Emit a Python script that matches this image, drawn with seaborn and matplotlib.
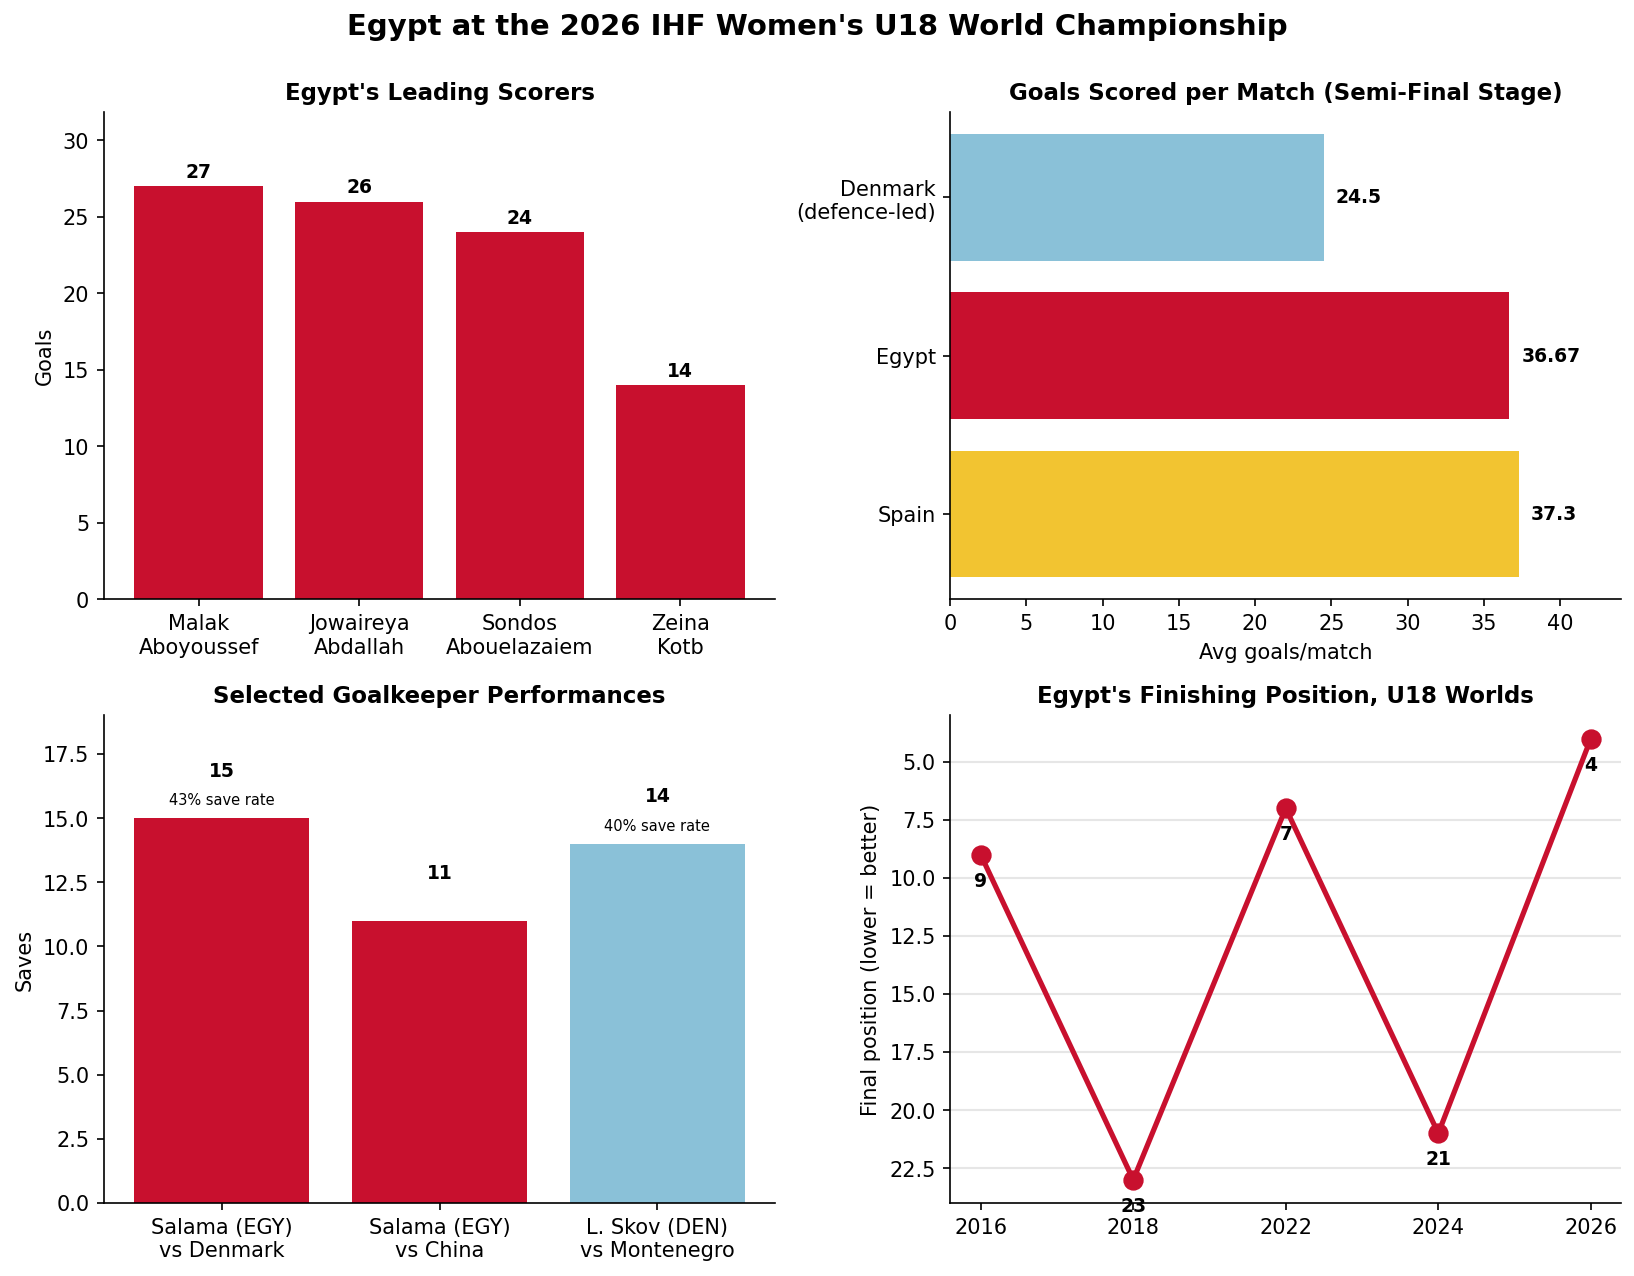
import numpy as np
import matplotlib
matplotlib.use("Agg")
import matplotlib.pyplot as plt
import seaborn as sns

plt.rcParams['font.family'] = ['DejaVu Sans']

RED = "#C8102E"
BLUE = "#8AC1D8"
GOLD = "#F2C431"

# leading scorers
scorers = ["Malak\nAboyoussef", "Jowaireya\nAbdallah", "Sondos\nAbouelazaiem", "Zeina\nKotb"]
goals = [27, 26, 24, 14]

# semi-final teams, avg goals per match
teams = ["Denmark\n(defence-led)", "Egypt", "Spain"]
avg_goals = [24.5, 36.67, 37.3]
avg_labels = ["24.5", "36.67", "37.3"]
team_colors = [BLUE, RED, GOLD]

# goalkeepers
keepers = ["Salama (EGY)\nvs Denmark", "Salama (EGY)\nvs China", "L. Skov (DEN)\nvs Montenegro"]
saves = [15, 11, 14]
save_rates = ["43% save rate", "", "40% save rate"]
keeper_colors = [RED, RED, BLUE]

# finishing positions
years = ["2016", "2018", "2022", "2024", "2026"]
positions = [9, 23, 7, 21, 4]

fig, axes = plt.subplots(2, 2, figsize=(1634.4 / 150, 1276.4 / 150), dpi=150)
fig.suptitle("Egypt at the 2026 IHF Women's U18 World Championship",
             fontsize=14, fontweight="bold", y=0.99)


def cat_margin(n):
    lo, hi = -0.4, n - 1 + 0.4
    pad = 0.05 * (hi - lo)
    return lo - pad, hi + pad


# top left
ax = axes[0, 0]
sns.barplot(x=scorers, y=goals, color=RED, saturation=1, width=0.8, ax=ax)
for i, v in enumerate(goals):
    ax.text(i, v + 0.3, str(v), ha="center", va="bottom", fontweight="bold", fontsize=9)
ax.set_xlim(*cat_margin(len(goals)))
ax.set_ylim(0, max(goals) * 1.18)
ax.set_ylabel("Goals")
ax.set_title("Egypt's Leading Scorers", fontweight="bold", fontsize=11)

# top right
ax = axes[0, 1]
sns.barplot(x=avg_goals, y=teams, hue=teams, palette=team_colors, saturation=1,
            orient="h", width=0.8, legend=False, ax=ax)
for i, (v, lab) in enumerate(zip(avg_goals, avg_labels)):
    ax.text(v + 0.8, i, lab, ha="left", va="center", fontweight="bold", fontsize=9)
lo, hi = cat_margin(len(teams))
ax.set_ylim(hi, lo)
ax.set_xlim(0, max(avg_goals) * 1.18)
ax.set_xlabel("Avg goals/match")
ax.set_ylabel("")
ax.set_title("Goals Scored per Match (Semi-Final Stage)", fontweight="bold", fontsize=11)

# bottom left
ax = axes[1, 0]
sns.barplot(x=keepers, y=saves, hue=keepers, palette=keeper_colors, saturation=1,
            width=0.8, legend=False, ax=ax)
for i, (v, r) in enumerate(zip(saves, save_rates)):
    ax.text(i, v + 1.85, str(v), ha="center", va="center", fontweight="bold", fontsize=9)
    if r:
        ax.text(i, v + 0.7, r, ha="center", va="center", fontsize=7)
ax.set_xlim(*cat_margin(len(saves)))
ax.set_ylim(0, max(saves) + 4)
ax.set_ylabel("Saves")
ax.set_title("Selected Goalkeeper Performances", fontweight="bold", fontsize=11)

# bottom right
ax = axes[1, 1]
sns.lineplot(x=years, y=positions, color=RED, linewidth=2.5, marker="o",
             markersize=9, markeredgecolor=RED, ax=ax)
for x, p in zip(years, positions):
    ax.annotate(str(p), (x, p), xytext=(0, -8), textcoords="offset points",
                ha="center", va="top", fontweight="bold", fontsize=9)
ax.set_ylim(24, 3)
ax.grid(axis="y", color="#e6e6e6", linewidth=1)
ax.set_axisbelow(True)
ax.set_ylabel("Final position (lower = better)")
ax.set_xlabel("")
ax.set_title("Egypt's Finishing Position, U18 Worlds", fontweight="bold", fontsize=11)

sns.despine(fig=fig)
fig.subplots_adjust(left=0.0636, right=0.992, top=0.912, bottom=0.0572,
                    wspace=0.261, hspace=0.238)
fig.savefig("out.png", dpi=150)
